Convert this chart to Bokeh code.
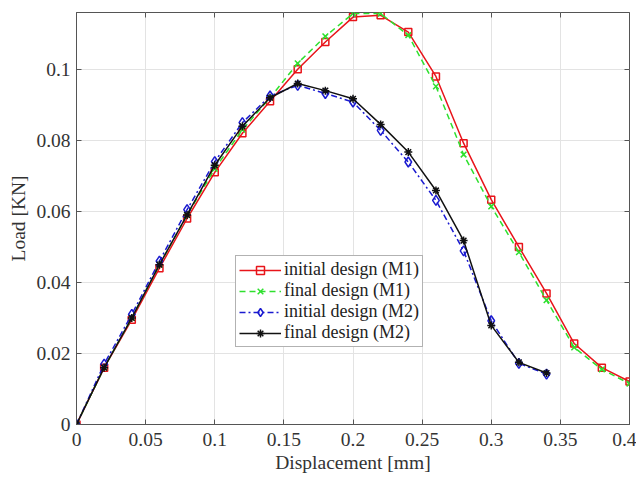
from bokeh.plotting import figure
from bokeh.models import LinearAxis, FixedTicker, CustomJSTickFormatter, Range1d, Legend, LegendItem
from bokeh.embed import file_html
from bokeh.resources import INLINE

disp_m1 = [0, 0.02, 0.04, 0.06, 0.08, 0.10, 0.12, 0.14, 0.16, 0.18, 0.20, 0.22, 0.24, 0.26, 0.28, 0.30, 0.32, 0.34, 0.36, 0.38, 0.40]
init_m1 = [0, 0.016, 0.0295, 0.044, 0.058, 0.071, 0.082, 0.091, 0.100, 0.1077, 0.1147, 0.1152, 0.1105, 0.098, 0.0792, 0.0633, 0.050, 0.0369, 0.0228, 0.016, 0.0121]
final_m1 = [0, 0.016, 0.030, 0.045, 0.059, 0.072, 0.083, 0.092, 0.1017, 0.1093, 0.1157, 0.1157, 0.1096, 0.0952, 0.076, 0.0614, 0.0485, 0.035, 0.0217, 0.0155, 0.0115]
disp_m2 = [0, 0.02, 0.04, 0.06, 0.08, 0.10, 0.12, 0.14, 0.16, 0.18, 0.20, 0.22, 0.24, 0.26, 0.28, 0.30, 0.32, 0.34]
init_m2 = [0, 0.017, 0.031, 0.046, 0.0605, 0.074, 0.085, 0.0925, 0.0955, 0.0932, 0.0908, 0.0828, 0.0739, 0.0631, 0.0489, 0.0292, 0.0172, 0.0142]
final_m2 = [0, 0.016, 0.030, 0.045, 0.059, 0.073, 0.084, 0.092, 0.096, 0.094, 0.0917, 0.0845, 0.0767, 0.0659, 0.0518, 0.0279, 0.0175, 0.0145]

x_ticks = [0, 0.05, 0.1, 0.15, 0.2, 0.25, 0.3, 0.35, 0.4]
y_ticks = [0, 0.02, 0.04, 0.06, 0.08, 0.1]

FONT = "Liberation Serif"
RED = "#e8141a"
GREEN = "#2ee02e"
BLUE = "#1a1ad0"
BLACK = "#111111"

p = figure(width=636, height=476, output_backend="svg", toolbar_location=None,
           x_range=Range1d(0, 0.4), y_range=Range1d(0, 0.116),
           min_border_left=76, min_border_right=7, min_border_top=12, min_border_bottom=52)

p.outline_line_color = "#555555"
p.outline_line_width = 1
p.background_fill_color = "white"
p.border_fill_color = "white"

fmt = CustomJSTickFormatter(code="var s = tick.toFixed(2); s = s.replace(/0+$/, ''); s = s.replace(/\\.$/, ''); return s;")
blank = CustomJSTickFormatter(code="return '';")

for ax, tk in ((p.xaxis[0], x_ticks), (p.yaxis[0], y_ticks)):
    ax.ticker = FixedTicker(ticks=tk)
    ax.formatter = fmt
    ax.major_tick_in = 5
    ax.major_tick_out = 0
    ax.minor_tick_line_color = None
    ax.axis_line_color = "#555555"
    ax.major_tick_line_color = "#555555"
    ax.major_label_text_font = FONT
    ax.major_label_text_font_size = "19.5px"
    ax.major_label_text_color = "#333333"
    ax.axis_label_text_font = FONT
    ax.axis_label_text_font_size = "19.5px"
    ax.axis_label_text_font_style = "normal"
    ax.axis_label_text_color = "#333333"

p.xaxis.axis_label = "Displacement [mm]"
p.yaxis.axis_label = "Load [KN]"
p.xaxis.major_label_standoff = 8
p.xaxis.axis_label_standoff = 3
p.yaxis.major_label_standoff = 6
p.yaxis.axis_label_standoff = 4

top = LinearAxis(ticker=FixedTicker(ticks=x_ticks), formatter=blank, major_tick_in=5, major_tick_out=0,
                 major_label_standoff=0,
                 minor_tick_line_color=None, axis_line_color=None, major_tick_line_color="#555555")
right = LinearAxis(ticker=FixedTicker(ticks=y_ticks), formatter=blank, major_tick_in=5, major_tick_out=0,
                   major_label_standoff=0,
                   minor_tick_line_color=None, axis_line_color=None, major_tick_line_color="#555555")
p.add_layout(top, "above")
p.add_layout(right, "right")

p.xgrid.ticker = FixedTicker(ticks=x_ticks)
p.ygrid.ticker = FixedTicker(ticks=y_ticks)
p.grid.grid_line_color = "#e3e3e3"
p.grid.grid_line_width = 1

r1l = p.line(disp_m1, init_m1, line_color=RED, line_width=1.5)
r1m = p.scatter(disp_m1, init_m1, marker="square", size=7, line_color=RED, fill_color=None, line_width=1.5)
r2l = p.line(disp_m1, final_m1, line_color=GREEN, line_width=1.5, line_dash="6 4")
r2m = p.scatter(disp_m1, final_m1, marker="x", size=8, line_color=GREEN, line_width=1.5)
r3l = p.line(disp_m2, init_m2, line_color=BLUE, line_width=1.5, line_dash="6 3 2 3")
r3m = p.scatter(disp_m2, init_m2, marker="diamond", size=10, line_color=BLUE, fill_color=None, line_width=1.5)
r4l = p.line(disp_m2, final_m2, line_color=BLACK, line_width=1.5)
r4m = p.scatter(disp_m2, final_m2, marker="asterisk", size=8, line_color=BLACK, line_width=1.5)

legend = Legend(items=[
    LegendItem(label="initial design (M1)", renderers=[r1l, r1m]),
    LegendItem(label="final design (M1)", renderers=[r2l, r2m]),
    LegendItem(label="initial design (M2)", renderers=[r3l, r3m]),
    LegendItem(label="final design (M2)", renderers=[r4l, r4m]),
], location=(159, 77))
legend.label_text_font = FONT
legend.label_text_font_size = "18px"
legend.label_text_color = "#222222"
legend.label_height = 20
legend.glyph_height = 20
legend.glyph_width = 42
legend.spacing = 0
legend.padding = 3
legend.margin = 0
legend.label_standoff = 3
legend.border_line_color = "#666666"
legend.border_line_width = 1.5
legend.background_fill_alpha = 1.0
p.add_layout(legend, "center")

open("out.html", "w").write(file_html(p, INLINE))
